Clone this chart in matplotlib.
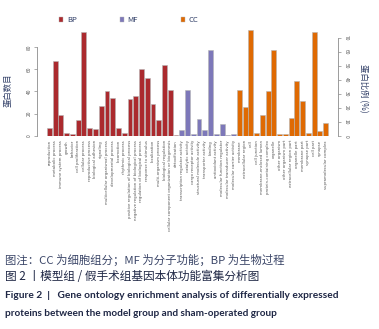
import matplotlib
matplotlib.use("Agg")
import matplotlib.pyplot as plt
from matplotlib.patches import Patch
import numpy as np

plt.rcParams['font.family'] = ['Noto Sans CJK SC', 'DejaVu Sans']

# GO terms and protein counts per category
bp_terms = ["reproduction", "metabolic process", "immune system process", "growth", "behavior",
            "cell proliferation", "cellular process", "reproductive process", "biological adhesion",
            "signaling", "multicellular organismal process", "developmental process", "locomotion",
            "rhythmic process", "positive regulation of biological process",
            "negative regulation of biological process", "regulation of biological process",
            "response to stimulus", "localization", "multi-organism process", "biological regulation",
            "cellular component organization or biogenesis", "detoxification"]
bp_counts = [7, 67, 19, 3, 2, 14, 93, 7, 6, 27, 40, 34, 7, 3, 33, 36, 60, 52, 29, 14, 64, 41, 1]

mf_terms = ["transcription regulator activity", "catalytic activity", "cargo receptor activity",
            "structural molecule activity", "transporter activity", "binding", "antioxidant activity",
            "molecular function regulator", "molecular transducer activity", "molecular carrier activity"]
mf_counts = [5, 41, 2, 15, 5, 77, 2, 11, 1, 2]

cc_terms = ["membrane", "extracellular region", "cell", "cell junction", "membrane-enclosed lumen",
            "protein-containing complex", "organelle", "other organism", "other organism part",
            "extracellular region part", "organelle part", "membrane part", "synapse part", "cell part",
            "synapse", "supramolecular complex"]
cc_counts = [41, 26, 95, 3, 19, 40, 77, 2, 2, 16, 49, 31, 3, 93, 4, 12]

count_per_pct = 1.258  # right axis: percent of proteins

colors = {"BP": "#ab2a2e", "MF": "#7d78b9", "CC": "#df6a03"}

terms = bp_terms + mf_terms + cc_terms
counts = bp_counts + mf_counts + cc_counts
bar_colors = ([colors["BP"]] * len(bp_terms) + [colors["MF"]] * len(mf_terms)
              + [colors["CC"]] * len(cc_terms))
x = np.arange(len(terms))

fig = plt.figure(figsize=(3.79, 3.29), dpi=100)
ax = fig.add_axes([0.098, 0.587, 0.794, 0.328])

ax.bar(x, counts, width=0.86, color=bar_colors, edgecolor="#b5b5b5", linewidth=0.4)
ax.set_xlim(-2.14, len(terms) + 1.17)
ax.set_ylim(0, 97)

axis_col = "#8c8c8c"
txt_col = "#555555"
for s in ["top", "bottom", "right"]:
    ax.spines[s].set_visible(False)
ax.spines["left"].set_bounds(0, 80)
ax.spines["left"].set_color(axis_col)
ax.spines["left"].set_linewidth(0.6)
ax.set_yticks([0, 20, 40, 60, 80])
ax.tick_params(axis="y", length=2, width=0.5, color=axis_col, labelsize=3.5,
               labelcolor=txt_col, pad=2)
for lab in ax.get_yticklabels():
    lab.set_rotation(90)
    lab.set_va("center")

ax.set_xticks(x)
ax.set_xticklabels(terms, rotation=90, fontsize=2.8, color=txt_col,
                   family=["DejaVu Sans"], va="top", ha="center")
ax.tick_params(axis="x", length=0, pad=3)

ax2 = ax.twinx()
ax2.set_ylim(0, 97 / count_per_pct)
for s in ["top", "bottom", "left"]:
    ax2.spines[s].set_visible(False)
ax2.spines["right"].set_bounds(0, 70)
ax2.spines["right"].set_color(axis_col)
ax2.spines["right"].set_linewidth(0.6)
ax2.set_yticks(range(0, 71, 10))
ax2.tick_params(axis="y", length=2, width=0.5, color=axis_col, labelsize=3.5,
                labelcolor=txt_col, pad=2)
for lab in ax2.get_yticklabels():
    lab.set_rotation(-90)
    lab.set_va("center")

lab_col = "#2f3d66"
fig.text(8 / 379, 1 - 90 / 329, "蛋白数目", rotation=90, ha="center", va="center",
         fontsize=6, color=lab_col)
fig.text(363 / 379, 1 - 88 / 329, "蛋白比例 (%)", rotation=-90, ha="center", va="center",
         fontsize=6, color=lab_col)

handles = [Patch(facecolor=colors[k], edgecolor="#b5b5b5", linewidth=0.3, label=k)
           for k in ["BP", "MF", "CC"]]
fig.legend(handles=handles, loc="center left", bbox_to_anchor=(52 / 379, 1 - 20 / 329),
           ncol=3, frameon=False, fontsize=5.5, handlelength=0.55, handleheight=0.55,
           handletextpad=0.5, columnspacing=5.6, labelcolor=lab_col)

# caption
fig.text(5 / 379, 1 - 260 / 329, "图注：CC 为细胞组分；MF 为分子功能；BP 为生物过程",
         fontsize=8.2, color="#3b4668", va="center", ha="left")
fig.text(5 / 379, 1 - 277 / 329, "图 2 丨模型组 / 假手术组基因本体功能富集分析图",
         fontsize=8.4, color="#1f2745", va="center", ha="left")
fig.text(5 / 379, 1 - 296 / 329,
         "Figure 2  |   Gene ontology enrichment analysis of differentially expressed",
         fontsize=7.3, color="#1f2745", va="center", ha="left", family=["Lato"], weight="bold")
fig.text(5 / 379, 1 - 313 / 329,
         "proteins between the model group and sham-operated group",
         fontsize=7.2, color="#1f2745", va="center", ha="left", family=["Lato"], weight="bold")

fig.savefig("out.png", dpi=100)
